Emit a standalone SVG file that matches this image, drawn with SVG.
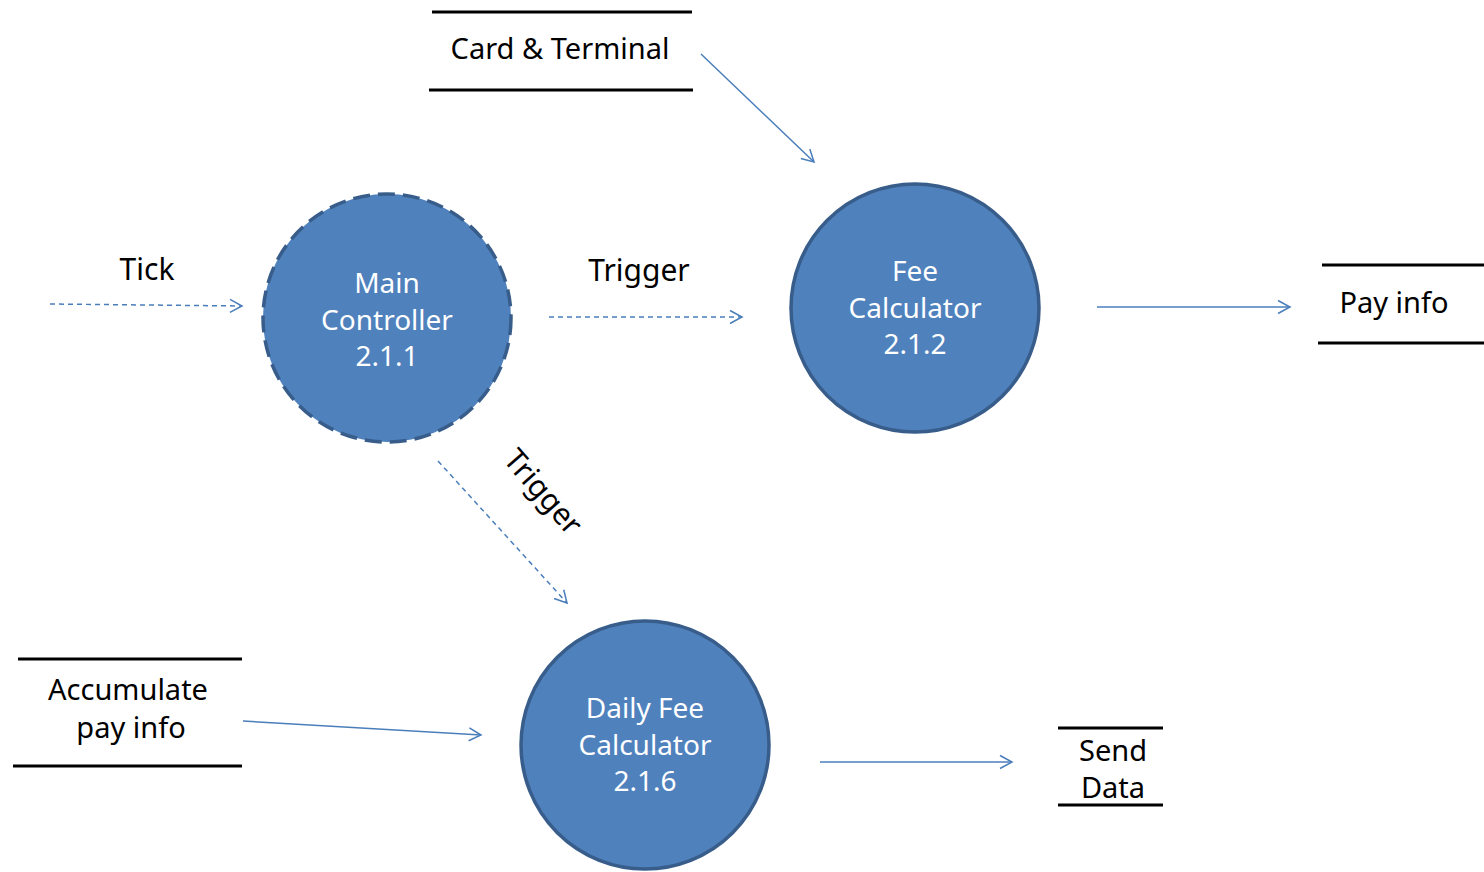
<svg xmlns="http://www.w3.org/2000/svg" width="1484" height="872" viewBox="0 0 1484 872">
<style>
.proc{fill:#4F81BD;stroke:#385D8A;stroke-width:3.5}
.dash{stroke-dasharray:17 8}
.ptxt{font-family:"Noto Sans","Open Sans",sans-serif;font-size:28px;fill:#FFFFFF;text-anchor:middle}
.store{stroke:#000;stroke-width:3}
.stxt{font-family:"Noto Sans","Open Sans",sans-serif;font-size:29px;fill:#000;text-anchor:middle}
.flow{fill:none;stroke:#4A7EBB;stroke-width:1.5}
.fd{stroke-dasharray:5 4}
.lbl{font-family:"Noto Sans","Open Sans",sans-serif;font-size:30px;fill:#000;text-anchor:middle}
</style>
<defs>
<marker id="arr" markerUnits="userSpaceOnUse" markerWidth="16" markerHeight="16" refX="13" refY="8" orient="auto">
<path d="M1,1.5 L13,8 L1,14.5" fill="none" stroke="#4A7EBB" stroke-width="1.5"/>
</marker>
</defs>
<g id="connectors">
<line class="flow fd" x1="50" y1="304" x2="242" y2="306" marker-end="url(#arr)"/>
<line class="flow fd" x1="549" y1="317" x2="742" y2="317" marker-end="url(#arr)"/>
<line class="flow fd" x1="438" y1="461" x2="567" y2="603" marker-end="url(#arr)"/>
<line class="flow" x1="701" y1="54" x2="814" y2="162" marker-end="url(#arr)"/>
<line class="flow" x1="1097" y1="307" x2="1290" y2="307" marker-end="url(#arr)"/>
<line class="flow" x1="243" y1="721" x2="481" y2="735" marker-end="url(#arr)"/>
<line class="flow" x1="820" y1="762" x2="1012" y2="762" marker-end="url(#arr)"/>
<text class="lbl" x="147" y="280">Tick</text>
<text class="lbl" x="639" y="281">Trigger</text>
<text class="lbl" transform="translate(543,492) rotate(49)" x="0" y="10">Trigger</text>
</g>
<g id="main-controller">
<circle class="proc dash" cx="387" cy="318" r="124"/>
<text class="ptxt" x="387" y="293">Main</text>
<text class="ptxt" x="387" y="330">Controller</text>
<text class="ptxt" x="387" y="366">2.1.1</text>
</g>
<g id="fee-calculator">
<circle class="proc" cx="915" cy="308" r="124"/>
<text class="ptxt" x="915" y="281">Fee</text>
<text class="ptxt" x="915" y="318">Calculator</text>
<text class="ptxt" x="915" y="354">2.1.2</text>
</g>
<g id="daily-fee-calculator">
<circle class="proc" cx="645" cy="745" r="124"/>
<text class="ptxt" x="645" y="718">Daily Fee</text>
<text class="ptxt" x="645" y="755">Calculator</text>
<text class="ptxt" x="645" y="791">2.1.6</text>
</g>
<g id="card-terminal">
<line class="store" x1="432" y1="12" x2="692" y2="12"/>
<line class="store" x1="429" y1="90" x2="693" y2="90"/>
<text class="stxt" x="560" y="59">Card &amp; Terminal</text>
</g>
<g id="pay-info">
<line class="store" x1="1322" y1="265" x2="1484" y2="265"/>
<line class="store" x1="1318" y1="343" x2="1484" y2="343"/>
<text class="stxt" x="1394" y="313">Pay info</text>
</g>
<g id="accumulate-pay-info">
<line class="store" x1="18" y1="659" x2="242" y2="659"/>
<line class="store" x1="13" y1="766" x2="242" y2="766"/>
<text class="stxt" x="128" y="700">Accumulate</text>
<text class="stxt" x="131" y="738">pay info</text>
</g>
<g id="send-data">
<line class="store" x1="1058" y1="728" x2="1163" y2="728"/>
<line class="store" x1="1058" y1="805" x2="1163" y2="805"/>
<text class="stxt" x="1113" y="761">Send</text>
<text class="stxt" x="1113" y="798">Data</text>
</g>
</svg>
